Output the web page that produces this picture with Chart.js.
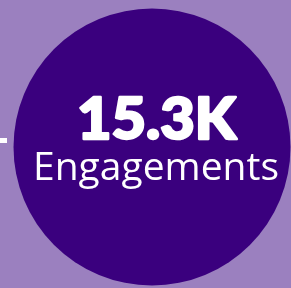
<!DOCTYPE html>
<html>
<head>
<meta charset="utf-8">
<script src="https://cdn.jsdelivr.net/npm/chart.js@4/dist/chart.umd.min.js"></script>
<style>
  html, body { margin: 0; padding: 0; background: #9b80bf; overflow: hidden; }
  canvas { display: block; }
</style>
</head>
<body>
<canvas id="chart" width="291" height="288"></canvas>
<script>
// valores do gráfico
const bigValue = ['15.3K'];
const valueLabel = ['Engagements'];
const circlePoint = [{ x: 152, y: 147 }];
const connectorPoints = [{ x: 0, y: 140.5 }, { x: 30, y: 140.5 }];

const bgColor = '#9b80bf';
const circleColor = '#3a007e';

// escreve o texto esticado até uma largura alvo
function fitText(ctx, text, font, cx, baseline, width, stroke) {
    ctx.font = font;
    const w = ctx.measureText(text).width;
    ctx.save();
    ctx.translate(cx, baseline);
    ctx.scale(width / w, 1);
    ctx.fillText(text, 0, 0);
    if (stroke) {
        ctx.lineWidth = stroke;
        ctx.lineJoin = 'round';
        ctx.strokeText(text, 0, 0);
    }
    ctx.restore();
}

// texto central desenhado por cima do círculo
const centerText = {
    id: 'centerText',
    afterDatasetsDraw(chart) {
        const ctx = chart.ctx;
        ctx.save();
        ctx.fillStyle = '#ffffff';
        ctx.strokeStyle = '#ffffff';
        ctx.textAlign = 'center';
        ctx.textBaseline = 'alphabetic';
        fitText(ctx, bigValue[0], '900 57px Lato', 156.5, 138.5, 159, 2.5);
        fitText(ctx, valueLabel[0], '400 38px "Open Sans"', 156, 180, 246);
        ctx.restore();
    }
};

new Chart(document.getElementById('chart'), {
    type: 'scatter',
    data: {
        datasets: [
            {
                type: 'line',
                data: connectorPoints,
                borderColor: '#ffffff',
                borderWidth: 5,
                borderDash: [7, 8],
                pointRadius: 0,
                clip: false,
                order: 2
            },
            {
                data: circlePoint,
                backgroundColor: circleColor,
                borderWidth: 0,
                pointStyle: 'circle',
                pointRadius: 138.5,
                pointHoverRadius: 138.5,
                clip: false,
                order: 1
            }
        ]
    },
    options: {
        responsive: false,
        animation: false,
        events: [],
        layout: { padding: 0, autoPadding: false },
        plugins: {
            legend: { display: false },
            tooltip: { enabled: false }
        },
        scales: {
            x: { type: 'linear', min: 0, max: 291, display: false },
            y: { type: 'linear', min: 0, max: 288, reverse: true, display: false }
        }
    },
    plugins: [centerText]
});
</script>
</body>
</html>
